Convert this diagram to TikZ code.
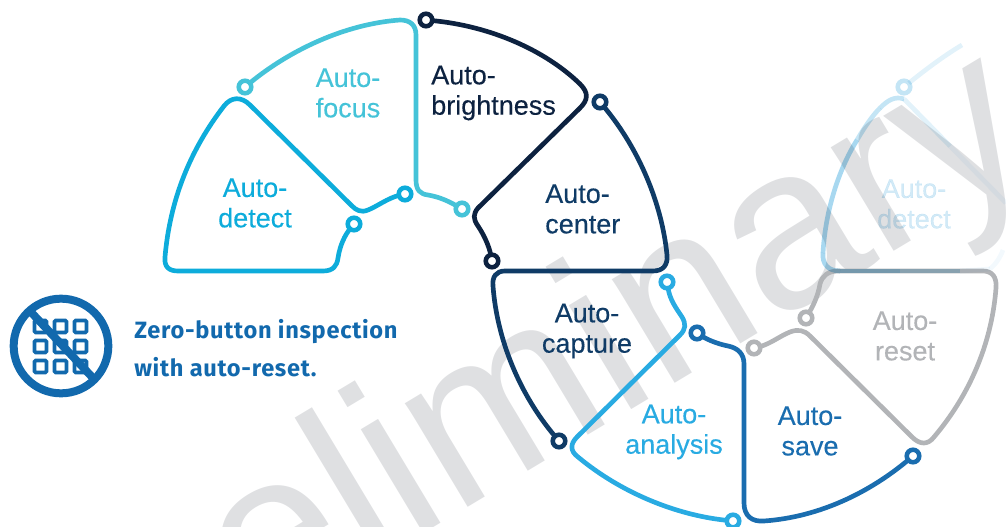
\documentclass[tikz,border=0pt]{standalone}
\usepackage{fontspec}
\setmainfont{Liberation Sans}
\newfontfamily\zerofont[LetterSpace=3]{Fira Sans}
\newfontfamily\labelfont[FakeBold=0.3]{Liberation Sans}
\definecolor{cbright}{HTML}{0D2240}
\definecolor{ccenter}{HTML}{0F3B66}
\definecolor{cfocus}{HTML}{45C3D8}
\definecolor{cdetect}{HTML}{0DACDB}
\definecolor{canalysis}{HTML}{29ABE2}
\definecolor{csave}{HTML}{1A6DAF}
\definecolor{creset}{HTML}{B2B4B7}
\definecolor{cicon}{HTML}{1269AD}
\definecolor{cmark}{HTML}{DFE0E2}
\definecolor{fa}{HTML}{A8D8F0}
\definecolor{fb}{HTML}{C4E5F5}
\definecolor{fc}{HTML}{E2F2FA}
\definecolor{fd}{HTML}{F3F9FD}
\definecolor{ft}{HTML}{D2EAF7}
\tikzset{
  pin/.style={circle,draw=#1,fill=white,line width=3.4pt,minimum size=9.4pt,inner sep=0pt,outer sep=0pt},
  arcline/.style={draw=#1,line width=3.5pt,line cap=round,line join=round},
  fadeline/.style={draw=#1,line width=3.5pt,line cap=butt},
  label/.style={text=#1,inner sep=0pt,font=\labelfont\fontsize{20.25}{22.8}\selectfont},
  labelc/.style={label=#1,align=center},
  labell/.style={label=#1,align=left,anchor=west},
  gridkey/.style={draw=cicon,line width=2.8pt,rounded corners=1pt}
}
\begin{document}
\begin{tikzpicture}[x=0.75pt,y=-0.75pt]
\useasboundingbox (0,0) rectangle (1006,527);
\clip (0,0) rectangle (1006,527);
% watermark
\node[rotate=31,anchor=base west,inner sep=0pt,text=cmark,font=\fontsize{172}{172}\selectfont] (mark) at (61,752) {Preliminary};
% pins
\node[pin=cfocus] (pfa) at (245,87) {};
\node[pin=cfocus] (pfb) at (462,209) {};
\node[pin=cdetect] (pda) at (405,194) {};
\node[pin=cdetect] (pdb) at (354,224) {};
\node[pin=cbright] (pba) at (426,20) {};
\node[pin=cbright] (pbb) at (492,261) {};
\node[pin=ccenter] (pca) at (600,102) {};
\node[pin=ccenter] (pcb) at (559,441) {};
\node[pin=canalysis] (paa) at (667,282) {};
\node[pin=canalysis] (pab) at (733,521) {};
\node[pin=csave] (psa) at (697,333) {};
\node[pin=csave] (psb) at (913,456) {};
\node[pin=creset] (pra) at (754,348) {};
\node[pin=creset] (prb) at (806,318) {};
% curves
\draw[arcline=cfocus] (pfa) .. controls (290,50) and (345,24) .. (400,20) .. controls (410,20) and (416,25) .. (416,35) -- (416,180) .. controls (416,190) and (420,194) .. (428,195) .. controls (440,197) and (450,202) .. (pfb);
\draw[arcline=cdetect] (pda) .. controls (388,198) and (376,207) .. (368,210) .. controls (361,213) and (356,210) .. (352,206) -- (250,105) .. controls (241,96) and (231,97) .. (224,106) .. controls (190,150) and (170,200) .. (165,257) .. controls (164,267) and (169,271) .. (178,271) -- (323,271) .. controls (333,271) and (337,266) .. (338,258) .. controls (340,245) and (345,235) .. (pdb);
\draw[arcline=cbright] (pba) .. controls (490,26) and (545,50) .. (580,84) .. controls (589,93) and (588,100) .. (580,108) -- (478,208) .. controls (473,214) and (473,219) .. (478,226) .. controls (484,235) and (489,246) .. (pbb);
\draw[arcline=ccenter] (pca) .. controls (640,150) and (662,205) .. (667,255) .. controls (668,265) and (663,271) .. (653,271) -- (505,271) .. controls (496,271) and (492,277) .. (493,286) .. controls (497,340) and (520,395) .. (pcb);
\draw[arcline=canalysis] (paa) .. controls (670,300) and (676,308) .. (682,317) .. controls (686,324) and (686,329) .. (680,335) -- (577,437) .. controls (570,444) and (570,451) .. (578,457) .. controls (620,492) and (675,515) .. (pab);
\draw[arcline=csave] (psa) .. controls (708,340) and (718,344) .. (728,346) .. controls (738,348) and (744,354) .. (744,364) -- (744,503) .. controls (744,516) and (752,522) .. (764,521) .. controls (820,517) and (870,492) .. (psb);
\draw[arcline=creset] (pra) .. controls (770,344) and (780,336) .. (790,332) .. controls (798,329) and (804,330) .. (810,336) -- (912,437) .. controls (920,445) and (928,445) .. (934,437) .. controls (972,392) and (992,340) .. (996,288) .. controls (997,277) and (992,271) .. (983,271) -- (838,271) .. controls (828,271) and (822,276) .. (820,284) .. controls (818,296) and (813,306) .. (prb);
% faded repeat, multiplied over what lies below
\begin{scope}[blend mode=multiply]
\node[pin=fb] (pxa) at (904,87) {};
\coordinate (xfree) at (962,45);
\coordinate (xa) at (904,99);
\coordinate (xb) at (880,108);
\coordinate (xc) at (857,140);
\coordinate (xd) at (823,253);
\coordinate (xe) at (840,271);
\coordinate (xf) at (900,271);
\coordinate (xg) at (960,271);
\coordinate (xh) at (990,269);
\coordinate (xi) at (1003,250);
\coordinate (xj) at (950,146);
\coordinate (xk) at (1006,203);
\draw[fadeline=fc] (pxa) .. controls (925,70) and (945,55) .. (xfree);
\draw[fadeline=fb] (xa) .. controls (895,96) and (888,100) .. (xb);
\draw[fadeline=fb] (xb) .. controls (872,116) and (864,128) .. (xc);
\draw[fadeline=fa] (xc) .. controls (837,172) and (825,215) .. (xd);
\draw[fadeline=fa] (xd) .. controls (822,264) and (828,271) .. (xe);
\draw[fadeline=fa] (xe) -- (xf);
\draw[fadeline=fb] (xf) -- (xg);
\draw[fadeline=fd] (xg) -- (xh);
\draw[fadeline=fd] (xh) .. controls (995,265) and (1000,258) .. (xi);
\draw[fadeline=fc] (xa) -- (xj);
\draw[fadeline=fd] (xj) -- (xk);
\node[labelc=ft] (lfaded) at (914,204) {Auto-\\detect};
\end{scope}
% labels
\node[labelc=cfocus] (lfocus) at (348,93) {Auto-\\focus};
\node[labell=cbright] (lbright) at (431,93) {Auto-\\brightness};
\node[labelc=cdetect] (ldetect) at (255,203) {Auto-\\detect};
\node[labell=ccenter] (lcenter) at (545,209) {Auto-\\center};
\node[labelc=ccenter] (lcapture) at (587,331) {Auto-\\capture};
\node[labelc=canalysis] (lanalysis) at (674,432) {Auto-\\analysis};
\node[labelc=csave] (lsave) at (810,431) {Auto-\\save};
\node[labelc=creset] (lreset) at (905,336) {Auto-\\reset};
% icon
\node[circle,draw=cicon,line width=6pt,minimum size=71pt,inner sep=0pt,outer sep=0pt] (icon) at (61,346) {};
\foreach \i/\cx in {a/40.5,b/60.5,c/80.5}{
  \foreach \j/\cy in {a/326.5,b/346.5,c/366.5}{
    \draw[gridkey] (\cx-6,\cy-6) rectangle (\cx+6,\cy+6);
  }
}
\coordinate (sa) at (29,310);
\coordinate (sb) at (93,378);
\draw[draw=cicon,line width=6pt] (sa) -- (sb);
\node[anchor=base west,inner sep=0pt,text=cicon,align=left,font=\zerofont\bfseries\fontsize{17.7}{28.5}\selectfont] (zero) at (134,376) {Zero-button inspection\\with auto-reset.};
\end{tikzpicture}
\end{document}
